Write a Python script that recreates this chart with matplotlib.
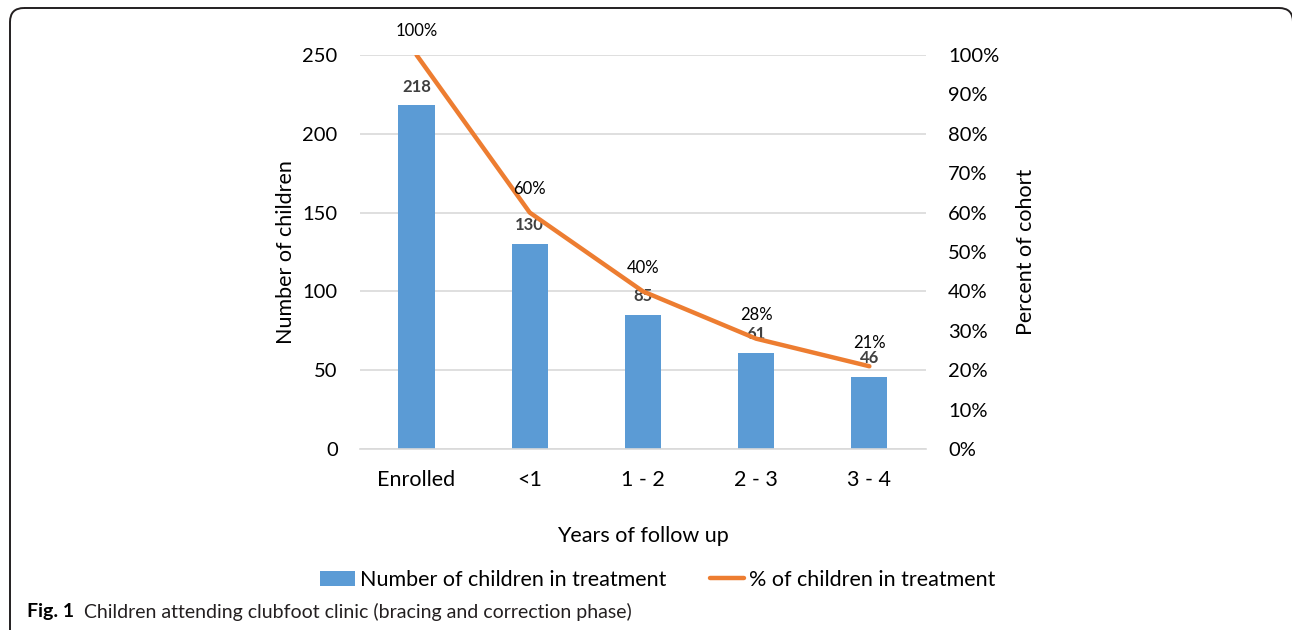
import matplotlib.pyplot as plt
from matplotlib.patches import FancyBboxPatch
from matplotlib.ticker import PercentFormatter

plt.rcParams['font.family'] = ['Lato', 'DejaVu Sans']

# Data
years = ['Enrolled', '<1', '1 - 2', '2 - 3', '3 - 4']
children = [218, 130, 85, 61, 46]
percent = [100, 60, 40, 28, 21]

bar_color = '#5B9BD5'
line_color = '#ED7D31'
text_color = '#000000'

fig = plt.figure(figsize=(12.92, 6.3), dpi=100)

# Rounded frame round the whole figure
bg = fig.add_axes([0, 0, 1, 1], zorder=-1)
bg.set_xlim(0, 1292)
bg.set_ylim(630, 0)
bg.axis('off')
bg.add_patch(FancyBboxPatch((10, 8), 1283, 700,
                            boxstyle='round,pad=0,rounding_size=14',
                            fill=False, edgecolor='#231f20', linewidth=1.4))

ax = fig.add_axes([0.2786, 0.2873, 0.4381, 0.6254])
x = range(len(years))
bars = ax.bar(x, children, width=0.32, color=bar_color, zorder=2,
              label='Number of children in treatment')
ax.set_xlim(-0.5, len(years) - 0.5)
ax.set_ylim(0, 250)
ax.set_yticks(range(0, 251, 50))
ax.grid(axis='y', color='#d9d9d9', linewidth=1.2, zorder=0)
ax.set_axisbelow(True)
for s in ax.spines.values():
    s.set_visible(False)
ax.spines['bottom'].set_visible(True)
ax.spines['bottom'].set_color('#d9d9d9')
ax.spines['bottom'].set_linewidth(1.2)
ax.tick_params(length=0, labelsize=14.5, colors=text_color)
ax.tick_params(axis='y', pad=16)
ax.tick_params(axis='x', pad=15, labelsize=15.5)
ax.set_xticks(list(x))
ax.set_xticklabels(years)
ax.set_ylabel('Number of children', fontsize=15.5, labelpad=5)
ax.set_xlabel('Years of follow up', fontsize=15.5, labelpad=26)

for i, v in enumerate(children):
    ax.annotate(str(v), (i, v), xytext=(0, 13.5), textcoords='offset points',
                ha='center', va='center', fontsize=12, fontweight='bold',
                color='#404040')

ax2 = ax.twinx()
line, = ax2.plot(x, percent, color=line_color, linewidth=3.2,
                 solid_capstyle='round', zorder=3,
                 label='% of children in treatment')
ax2.set_ylim(0, 100)
ax2.set_yticks(range(0, 101, 10))
ax2.yaxis.set_major_formatter(PercentFormatter(decimals=0))
for s in ax2.spines.values():
    s.set_visible(False)
ax2.tick_params(length=0, labelsize=14.5, colors=text_color, pad=16)
ax2.set_ylabel('Percent of cohort', fontsize=15.5, labelpad=12)

for i, p in enumerate(percent):
    ax2.annotate(f'{p}%', (i, p), xytext=(0, 17), textcoords='offset points',
                 ha='center', va='center', fontsize=12, color=text_color)

fig.legend(handles=[bars, line], loc='center', ncol=2,
           bbox_to_anchor=(658 / 1292, 1 - 580 / 630), frameon=False,
           fontsize=15.5, handlelength=1.6, handletextpad=0.25,
           columnspacing=2.0)

# Caption under the chart
fig.text(27 / 1292, 1 - 612 / 630, 'Fig. 1', fontsize=14, fontweight='bold',
         va='center', ha='left')
fig.text(84 / 1292, 1 - 612 / 630,
         'Children attending clubfoot clinic (bracing and correction phase)',
         fontsize=14, va='center', ha='left', color='#231f20')

fig.savefig('out.png', dpi=100)
